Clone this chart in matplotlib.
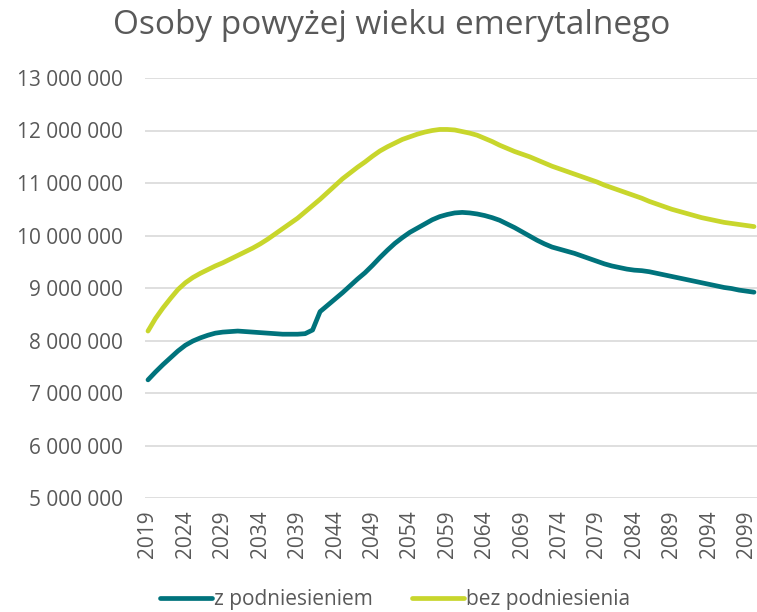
import matplotlib
matplotlib.use("Agg")
import matplotlib.pyplot as plt
from matplotlib.ticker import FuncFormatter

# yearly values (millions of people)
years = list(range(2019, 2101))
z_podniesieniem = [
    7.25, 7.40, 7.54, 7.67, 7.80, 7.91, 7.99, 8.05, 8.10, 8.14,
    8.16, 8.17, 8.18, 8.17, 8.16, 8.15, 8.14, 8.13, 8.12, 8.12,
    8.12, 8.13, 8.20, 8.55, 8.67, 8.79, 8.91, 9.04, 9.17, 9.29,
    9.43, 9.58, 9.72, 9.85, 9.96, 10.06, 10.14, 10.22, 10.30, 10.36,
    10.40, 10.43, 10.44, 10.43, 10.41, 10.38, 10.34, 10.29, 10.22, 10.15,
    10.07, 9.99, 9.91, 9.84, 9.78, 9.74, 9.70, 9.66, 9.61, 9.56,
    9.51, 9.46, 9.42, 9.39, 9.36, 9.34, 9.33, 9.31, 9.28, 9.25,
    9.22, 9.19, 9.16, 9.13, 9.10, 9.07, 9.04, 9.01, 8.99, 8.96,
    8.94, 8.92,
]
bez_podniesienia = [
    8.18, 8.42, 8.62, 8.80, 8.97, 9.10, 9.20, 9.28, 9.35, 9.42,
    9.48, 9.55, 9.62, 9.69, 9.76, 9.84, 9.93, 10.03, 10.13, 10.23,
    10.33, 10.45, 10.57, 10.69, 10.82, 10.95, 11.08, 11.19, 11.30, 11.40,
    11.51, 11.61, 11.69, 11.76, 11.83, 11.88, 11.93, 11.97, 12.00, 12.02,
    12.02, 12.01, 11.98, 11.95, 11.91, 11.85, 11.79, 11.72, 11.66, 11.60,
    11.55, 11.50, 11.44, 11.38, 11.32, 11.27, 11.22, 11.17, 11.12, 11.07,
    11.02, 10.96, 10.91, 10.86, 10.81, 10.76, 10.71, 10.65, 10.60, 10.55,
    10.50, 10.46, 10.42, 10.38, 10.34, 10.31, 10.28, 10.25, 10.23, 10.21,
    10.19, 10.17,
]
series_labels = ["z podniesieniem", "bez podniesienia"]
title = "Osoby powyżej wieku emerytalnego"

TEAL = "#00737C"
LIME = "#C8D62C"
GREY_TXT = "#595959"

plt.rcParams["font.family"] = ["Open Sans", "DejaVu Sans"]

fig = plt.figure(figsize=(7.57, 6.12), dpi=100)
ax = fig.add_axes([145 / 757, 114 / 612, 612 / 757, 420 / 612])

ax.plot(years, [v * 1e6 for v in z_podniesieniem], color=TEAL, lw=3.4,
        solid_capstyle="round", label=series_labels[0])
ax.plot(years, [v * 1e6 for v in bez_podniesienia], color=LIME, lw=3.4,
        solid_capstyle="round", label=series_labels[1])

ax.set_ylim(5e6, 13e6)
ax.set_yticks([i * 1e6 for i in range(5, 14)])
ax.yaxis.set_major_formatter(FuncFormatter(lambda v, p: f"{int(v):,}".replace(",", " ")))
ax.set_xlim(2018.6, 2100.4)
ax.set_xticks(years[::5])
ax.tick_params(axis="x", labelrotation=90, length=0, pad=9, labelsize=15, colors=GREY_TXT)
ax.tick_params(axis="y", length=0, pad=16, labelsize=15, colors=GREY_TXT)

ax.grid(axis="y", color="#D9D9D9", lw=1.2)
ax.set_axisbelow(True)
for s in ax.spines.values():
    s.set_visible(False)

fig.text(392 / 757, 1 - 26 / 612, title, ha="center", va="center",
         fontsize=24, color=GREY_TXT)

fig.legend(loc="center", bbox_to_anchor=(395 / 757, 1 - 600 / 612), ncol=2,
           frameon=False, fontsize=15, labelcolor=GREY_TXT,
           handlelength=2.5, handletextpad=0.1, columnspacing=1.9)

fig.savefig("out.png", dpi=100)
